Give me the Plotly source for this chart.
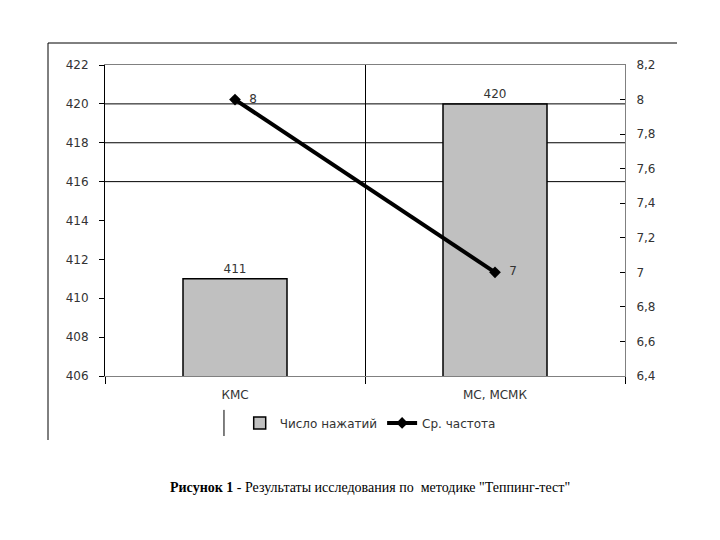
import plotly.graph_objects as go

categories = ["КМС", "МС, МСМК"]
clicks = [411, 420]
freq = [8, 7]
left_ticks = [406, 408, 410, 412, 414, 416, 418, 420, 422]
right_tickvals = [6.4, 6.6, 6.8, 7.0, 7.2, 7.4, 7.6, 7.8, 8.0, 8.2]
right_ticktext = ["6,4", "6,6", "6,8", "7", "7,2", "7,4", "7,6", "7,8", "8", "8,2"]
grid_levels = [416, 418, 420]
caption = "<b>Рисунок 1</b> - Результаты исследования по  методике \"Теппинг-тест\""

tick_font = dict(family="DejaVu Sans, Liberation Sans, Arial, sans-serif", size=12, color="#333333")

fig = go.Figure()
fig.add_trace(go.Bar(
    x=categories, y=clicks, name="Число нажатий",
    marker=dict(color="#c0c0c0", line=dict(color="black", width=1.5)),
    text=[str(v) for v in clicks], textposition="outside",
    textfont=tick_font, cliponaxis=False,
))
fig.add_trace(go.Scatter(
    x=categories, y=freq, name="Ср. частота", yaxis="y2",
    mode="lines+markers+text",
    line=dict(color="black", width=4),
    marker=dict(symbol="diamond", size=9, color="black"),
    text=["  " + str(v) for v in freq], textposition="middle right",
    textfont=tick_font,
))

shapes = []
for g in grid_levels:
    shapes.append(dict(type="line", xref="paper", yref="y", x0=0, x1=1, y0=g, y1=g,
                       line=dict(color="black", width=1), layer="below"))
# outer frame
shapes.append(dict(type="line", xref="paper", yref="paper", x0=-0.1096, x1=1.1, y0=1.0707, y1=1.0707,
                   line=dict(color="black", width=1)))
shapes.append(dict(type="line", xref="paper", yref="paper", x0=-0.1096, x1=-0.1096, y0=1.0707, y1=-0.2058,
                   line=dict(color="black", width=1)))
# legend side mark
shapes.append(dict(type="line", xref="paper", yref="paper", x0=0.2288, x1=0.2288, y0=-0.109, y1=-0.193,
                   line=dict(color="black", width=1)))

fig.update_layout(
    width=720, height=540,
    margin=dict(l=97, r=103, t=57, b=172),
    paper_bgcolor="white", plot_bgcolor="white",
    bargap=0.6,
    showlegend=True,
    legend=dict(orientation="h", x=0.51, xanchor="center", y=-0.151, yanchor="middle",
                font=tick_font, itemwidth=30, traceorder="normal"),
    xaxis=dict(type="category", range=[-0.5, 1.5], tickson="boundaries",
               showgrid=True, gridcolor="black", gridwidth=1,
               showline=True, linecolor="#808080", linewidth=1, mirror=True,
               ticks="outside", ticklen=7, tickcolor="black",
               tickfont=tick_font, ticklabelstandoff=8),
    yaxis=dict(range=[406, 422], tickvals=left_ticks, showgrid=False, zeroline=False,
               showline=True, linecolor="black", linewidth=1,
               ticks="outside", ticklen=5, tickcolor="black",
               tickfont=tick_font, ticklabelstandoff=8),
    yaxis2=dict(range=[6.4, 8.2], tickvals=right_tickvals, ticktext=right_ticktext,
                overlaying="y", side="right", showgrid=False, zeroline=False,
                showline=True, linecolor="#808080", linewidth=1,
                ticks="inside", ticklen=5, tickcolor="black",
                tickfont=tick_font, ticklabelstandoff=8),
    shapes=shapes,
    annotations=[dict(text=caption, xref="paper", yref="paper", x=0.51, y=-0.357,
                      showarrow=False, xanchor="center", yanchor="middle",
                      font=dict(family="Liberation Serif, Times New Roman, serif", size=14, color="black"))],
)

fig.write_html("out.html")
